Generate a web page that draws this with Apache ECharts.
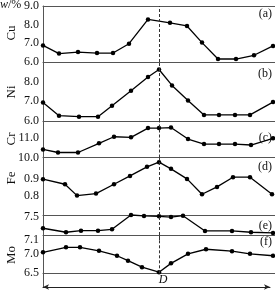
<!DOCTYPE html>
<html><head><meta charset="utf-8">
<script src="https://cdn.jsdelivr.net/npm/echarts@6/dist/echarts.min.js"></script>
<style>html,body{margin:0;padding:0;background:#fff}#c{width:275px;height:290px}</style>
</head><body><div id="c"></div>
<script>
// distance positions (arbitrary units across the joint) and mass fractions w/%
const D_POS = 116;
const cuX = [0, 16, 35, 54, 70, 86, 105, 127, 144, 159, 175, 193, 211, 230];
const cuY = [6.89, 6.45, 6.53, 6.48, 6.48, 6.98, 8.28, 8.10, 7.93, 7.04, 6.16, 6.16, 6.36, 6.86];
const niX = [0, 16, 36, 55, 69, 88, 105, 116, 129, 145, 161, 176, 192, 207, 230];
const niY = [6.94, 6.27, 6.22, 6.22, 6.78, 7.54, 8.24, 8.62, 7.81, 7.04, 6.31, 6.31, 6.31, 6.31, 6.96];
const crX = [0, 15, 35, 56, 71, 88, 105, 116, 128, 145, 161, 176, 192, 208, 230];
const crY = [10.42, 10.26, 10.26, 10.74, 11.08, 11.05, 11.53, 11.53, 11.56, 10.96, 10.70, 10.70, 10.70, 10.65, 11.0];
const feX = [0, 22, 34, 53, 71, 87, 104, 116, 128, 144, 159, 174, 190, 207, 229];
const feY = [0.90, 0.87, 0.802, 0.814, 0.87, 0.92, 0.974, 1.002, 0.962, 0.902, 0.81, 0.854, 0.912, 0.912, 0.81];
const eX = [0, 23, 38, 55, 69, 88, 101, 116, 128, 140, 162, 189, 208, 230];
const eY = [7.295, 7.225, 7.253, 7.253, 7.277, 7.526, 7.509, 7.503, 7.49, 7.514, 7.248, 7.248, 7.225, 7.213];
const moX = [0, 23, 37, 56, 74, 85, 99, 116, 128, 145, 163, 189, 207, 230];
const moY = [7.03, 7.16, 7.16, 7.07, 6.94, 6.81, 6.64, 6.51, 6.74, 6.99, 7.11, 7.06, 6.99, 6.94];

const elemNames = ['Cu', 'Ni', 'Cr', 'Fe', '', 'Mo'];
const panelTags = ['(a)', '(b)', '(c)', '(d)', '(e)', '(f)'];
const tickLabels = [[6, 7, 8, 9], [6, 7, 8], [10, 11], [0.8, 0.9], [7.1, 7.5], [6.5, 7.0]];

const FONT = 'Liberation Serif';
const LINE_C = '#555';
const panels = [
  {x: cuX, y: cuY, top: 5, h: 57, min: 6, max: 9},
  {x: niX, y: niY, top: 62, h: 59, min: 6, max: 9},
  {x: crX, y: crY, top: 121, h: 36.5, min: 10, max: 11.9},
  {x: feX, y: feY, top: 157.5, h: 57.5, min: 0.686, max: 1.03},
  {x: eX, y: eY, top: 215, h: 25, min: 7.09, max: 7.526},
  {x: moX, y: moY, top: 235.5, h: 37.8, min: 6.48, max: 7.47}
];

const grids = [], xAxes = [], yAxes = [], series = [], graphics = [];
panels.forEach((p, i) => {
  grids.push({left: 43, right: 0, top: p.top, height: p.h});
  xAxes.push({type: 'value', gridIndex: i, min: 0, max: 232, position: 'bottom',
    axisLine: {show: i !== 4, lineStyle: {color: LINE_C, width: 1}},
    axisTick: {show: false}, axisLabel: {show: false}, splitLine: {show: false}});
  yAxes.push({type: 'value', gridIndex: i, min: p.min, max: p.max,
    axisLine: {show: true, lineStyle: {color: LINE_C, width: 1}},
    axisTick: {show: false}, splitLine: {show: false},
    axisLabel: {show: true, customValues: tickLabels[i], margin: 4,
      formatter: v => v.toFixed(1), fontFamily: FONT, fontSize: 12, color: '#111'}});
  series.push({type: 'line', xAxisIndex: i, yAxisIndex: i, clip: false,
    data: p.x.map((xv, k) => [xv, p.y[k]]),
    symbol: 'circle', symbolSize: 4.5, showSymbol: true,
    lineStyle: {color: '#000', width: 1.3}, itemStyle: {color: '#000'},
    animation: false,
    markLine: {silent: true, symbol: 'none', animation: false,
      lineStyle: {type: [3, 2], color: '#333', width: 1},
      label: i === 5 ? {show: true, position: 'start', formatter: 'D', fontFamily: FONT,
        fontStyle: 'italic', fontSize: 12, color: '#111', distance: 1, offset: [4, 0]} : {show: false},
      data: [{xAxis: D_POS}]}});
});
// top border lines for panels (a) and (f)
[0, 5].forEach(gi => {
  xAxes.push({type: 'value', gridIndex: gi, min: 0, max: 232, position: 'top',
    axisLine: {show: true, onZero: false, lineStyle: {color: LINE_C, width: 1}},
    axisTick: {show: false}, axisLabel: {show: false}, splitLine: {show: false}});
});
// distance arrow below the panels
grids.push({left: 43, right: 5, top: 273, height: 14});
xAxes.push({type: 'value', gridIndex: 6, min: 0, max: 1,
  axisLine: {show: true, symbol: ['arrow', 'arrow'], symbolSize: [4, 6], lineStyle: {color: '#222', width: 1}},
  axisTick: {show: false}, axisLabel: {show: false}, splitLine: {show: false}});
yAxes.push({type: 'value', gridIndex: 6, min: 0, max: 1,
  axisLine: {show: true, lineStyle: {color: LINE_C, width: 1}},
  axisTick: {show: false}, axisLabel: {show: false}, splitLine: {show: false}});

const nameY = [33, 92, 139, 178, 0, 255];
elemNames.forEach((n, i) => {
  if (!n) return;
  graphics.push({type: 'text', x: 12, y: nameY[i], rotation: Math.PI / 2,
    style: {text: n, font: '13px ' + FONT, fill: '#111', align: 'center', verticalAlign: 'middle'}});
});
const tagY = [14, 74, 138, 167, 226, 242];
panelTags.forEach((t, i) => {
  graphics.push({type: 'text', x: 272, y: tagY[i],
    style: {text: t, font: '12px ' + FONT, fill: '#111', align: 'right', verticalAlign: 'middle'}});
});
graphics.push({type: 'text', x: 0, y: 5,
  style: {text: '{i|w}/%', fill: '#111', align: 'left', verticalAlign: 'middle',
    rich: {i: {fontStyle: 'italic', fontFamily: FONT, fontSize: 12}}, font: '12px ' + FONT}});

const chart = echarts.init(document.getElementById('c'), null, {renderer: 'canvas'});
chart.setOption({animation: false, backgroundColor: '#fff', grid: grids, xAxis: xAxes, yAxis: yAxes,
  series: series, graphic: graphics});
</script></body></html>
